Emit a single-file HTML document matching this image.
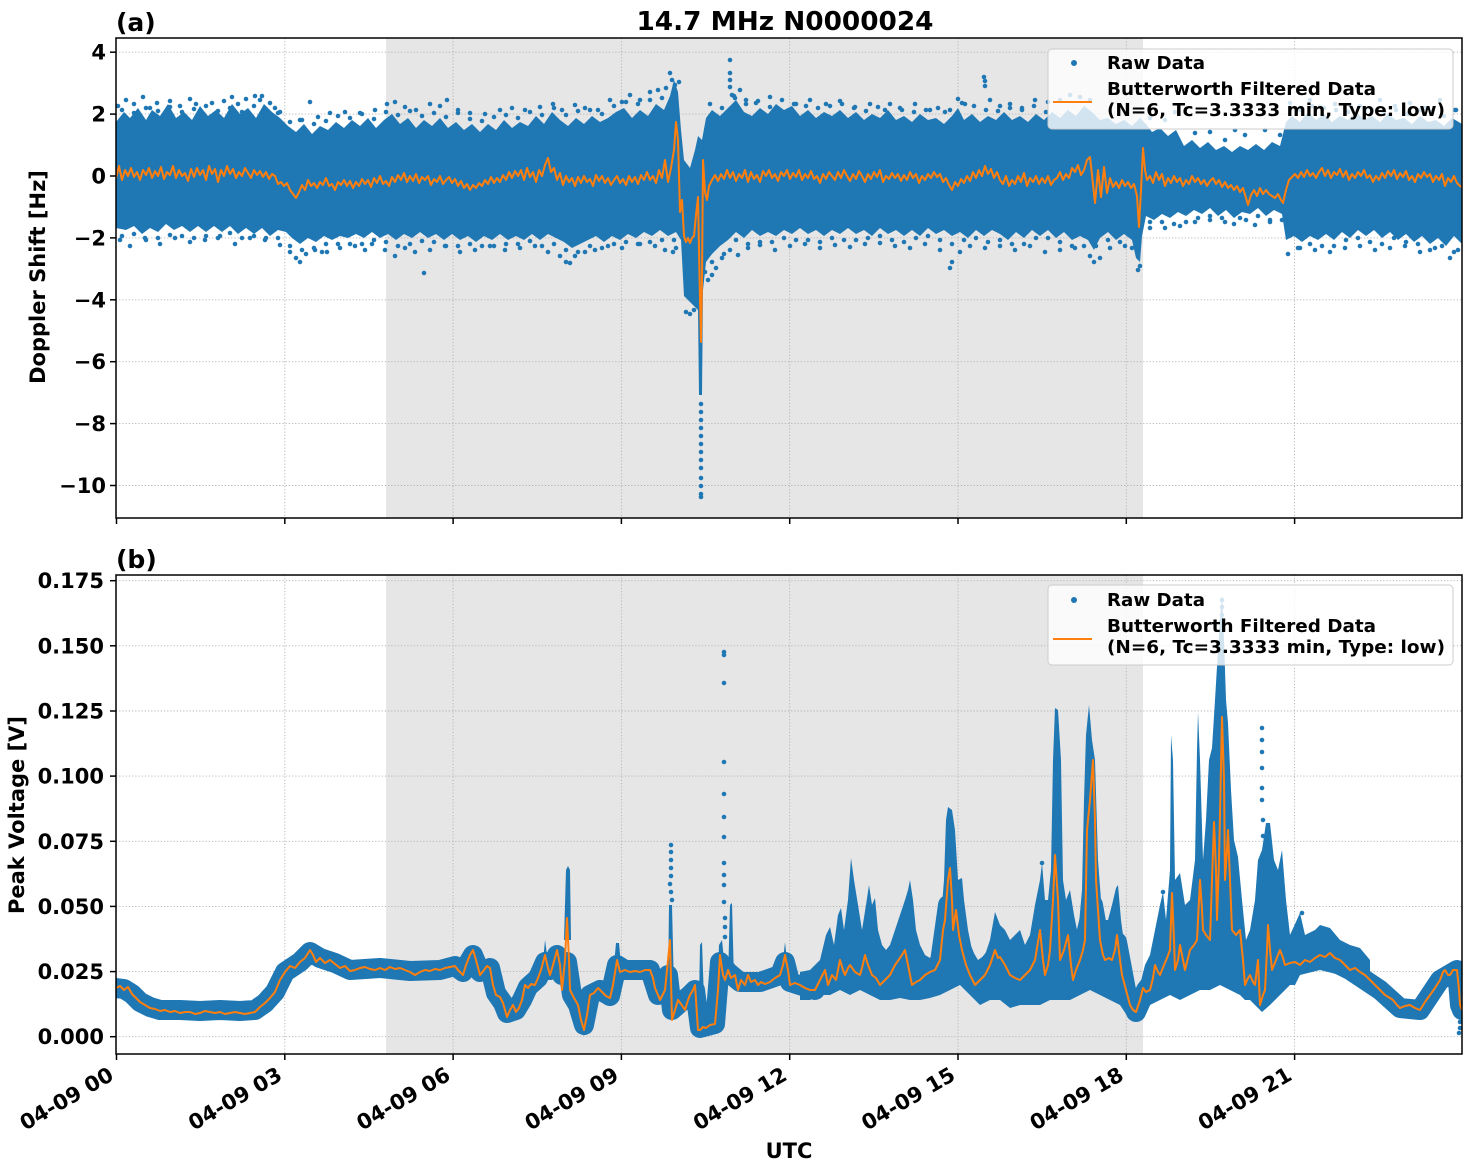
<!DOCTYPE html>
<html>
<head>
<meta charset="utf-8">
<style>
  html,body{margin:0;padding:0;background:#fff;}
  svg{display:block;}
  text{font-family:"DejaVu Sans","Liberation Sans",sans-serif;font-weight:bold;fill:#000;}
</style>
</head>
<body>
<svg width="1472" height="1172" viewBox="0 0 1472 1172" xmlns="http://www.w3.org/2000/svg">
<defs>
  <clipPath id="ca"><rect x="116" y="38" width="1346" height="480"/></clipPath>
  <clipPath id="cb"><rect x="116" y="575" width="1346" height="479"/></clipPath>
</defs>
<rect x="0" y="0" width="1472" height="1172" fill="#fff"/>

<!-- ============ TOP PANEL ============ -->
<rect x="386" y="38" width="757" height="480" fill="#e6e6e6"/>
<g stroke="#b0b0b0" stroke-width="0.9" stroke-dasharray="1.2,2">
  <line x1="284.8" y1="38" x2="284.8" y2="518"/>
  <line x1="453.1" y1="38" x2="453.1" y2="518"/>
  <line x1="621.4" y1="38" x2="621.4" y2="518"/>
  <line x1="789.7" y1="38" x2="789.7" y2="518"/>
  <line x1="958" y1="38" x2="958" y2="518"/>
  <line x1="1126.3" y1="38" x2="1126.3" y2="518"/>
  <line x1="1294.6" y1="38" x2="1294.6" y2="518"/>
  <line x1="116" y1="52.2" x2="1462" y2="52.2"/>
  <line x1="116" y1="114.1" x2="1462" y2="114.1"/>
  <line x1="116" y1="176" x2="1462" y2="176"/>
  <line x1="116" y1="237.9" x2="1462" y2="237.9"/>
  <line x1="116" y1="299.8" x2="1462" y2="299.8"/>
  <line x1="116" y1="361.7" x2="1462" y2="361.7"/>
  <line x1="116" y1="423.6" x2="1462" y2="423.6"/>
  <line x1="116" y1="485.5" x2="1462" y2="485.5"/>
</g>
<g clip-path="url(#ca)">
<path fill="#1f77b4" d="M116,122 L124,112 130,118 138,108 146,120 152,110 160,116 168,104 176,118 184,112 192,120 200,106 208,116 216,110 224,118 232,104 240,114 248,108 256,118 264,104 272,112 280,118 288,126 296,132 304,124 312,134 320,126 328,130 336,122 344,128 352,120 360,126 368,118 376,128 384,120 392,114 400,124 408,118 416,128 424,120 432,126 440,118 448,128 456,122 464,130 472,124 480,132 488,124 496,130 504,120 512,128 520,122 528,126 536,116 544,124 552,112 560,120 568,126 576,118 584,124 592,116 600,122 608,118 616,112 624,108 632,118 640,110 648,116 656,104 664,110 670,96 674,80 678,92 681,130 684,160 690,168 695,150 698,136 702,140 706,118 712,110 720,116 728,108 736,100 744,112 752,116 760,108 768,114 776,104 784,110 792,106 800,116 808,110 816,118 824,112 832,116 840,110 848,118 856,112 864,120 872,114 880,118 888,110 896,120 904,116 912,122 920,114 928,120 936,118 944,124 952,116 958,108 964,120 972,114 980,122 988,116 996,120 1004,112 1012,120 1020,116 1028,122 1036,114 1044,120 1052,112 1060,118 1068,110 1076,116 1084,106 1092,112 1100,120 1108,118 1116,124 1124,120 1132,126 1140,118 1146,124 1152,132 1160,128 1168,136 1176,130 1184,146 1192,140 1200,148 1208,142 1216,150 1224,146 1232,152 1240,146 1248,150 1256,144 1264,150 1272,142 1280,146 1286,122 1292,116 1300,122 1308,112 1316,120 1324,114 1332,122 1340,116 1348,120 1356,112 1364,120 1372,116 1380,122 1388,114 1396,120 1404,118 1412,124 1420,116 1428,122 1436,120 1444,126 1452,118 1462,124 L1462,244 1454,236 1446,246 1438,238 1430,244 1422,236 1414,242 1406,234 1398,240 1390,232 1382,238 1374,230 1366,236 1358,230 1350,238 1342,232 1334,240 1326,234 1318,240 1310,236 1302,242 1294,236 1286,240 1282,214 1274,210 1266,216 1258,208 1250,214 1242,212 1234,218 1226,210 1218,216 1210,208 1202,214 1194,210 1186,216 1178,212 1170,218 1162,214 1154,220 1146,216 1142,236 1140,262 1136,258 1132,240 1124,234 1116,240 1108,232 1100,238 1094,250 1088,240 1080,236 1072,240 1064,232 1056,238 1048,230 1040,236 1032,230 1024,238 1016,232 1008,240 1000,234 992,230 984,236 976,230 968,238 960,232 952,236 944,230 936,234 928,228 920,236 912,230 904,236 896,230 888,234 880,228 872,236 864,230 856,234 848,228 840,234 832,230 824,236 816,230 808,234 800,228 792,234 784,230 776,236 768,232 760,236 752,230 744,238 736,232 728,240 720,246 712,254 706,262 703,290 702,395 699,395 698,310 694,306 688,300 684,296 681,240 676,232 668,236 660,230 652,236 644,232 636,238 628,234 620,240 612,236 604,242 596,236 588,240 580,244 572,248 564,242 556,238 548,234 540,240 532,234 524,240 516,236 508,240 500,234 492,240 484,236 476,242 468,236 460,240 452,234 444,240 436,234 428,238 420,232 412,238 404,234 396,240 388,234 380,238 372,232 364,238 356,234 348,238 340,236 332,240 324,236 316,242 308,238 300,244 292,238 286,232 278,230 270,236 262,228 254,234 246,228 238,234 230,226 222,232 214,226 206,232 198,226 190,232 182,226 174,230 166,224 158,232 150,228 142,234 134,226 126,230 116,228 Z"/>
<path fill="none" stroke="#1f77b4" stroke-width="4.6" stroke-linecap="round" d="M118,106h0M126,100h0M134,104h0M143,97h0M150,108h0M157,103h0M170,101h0M180,106h0M190,99h0M196,104h0M212,103h0M224,101h0M232,97h0M238,104h0M246,99h0M255,96h0M260,100h0M262,96h0M270,103h0M275,108h0M280,112h0M300,120h0M310,102h0M318,117h0M330,113h0M345,112h0M360,113h0M375,110h0M387,104h0M395,102h0M405,107h0M416,110h0M430,104h0M440,106h0M447,100h0M458,110h0M470,113h0M485,114h0M500,110h0M512,108h0M525,110h0M540,107h0M553,104h0M562,110h0M575,105h0M585,108h0M598,110h0M610,100h0M622,102h0M630,95h0M640,100h0M650,92h0M658,90h0M666,88h0M670,73h0M672,80h0M675,85h0M679,82h0M730,60h0M730,73h0M730,80h0M730,87h0M732,95h0M735,98h0M740,90h0M746,100h0M756,103h0M770,97h0M782,100h0M796,104h0M810,100h0M826,104h0M840,101h0M855,107h0M870,104h0M885,110h0M900,108h0M915,104h0M930,110h0M945,112h0M958,99h0M965,104h0M984,77h0M985,81h0M985,86h0M990,100h0M1000,106h0M1010,104h0M1022,108h0M1035,100h0M1048,102h0M1060,100h0M1070,95h0M1080,97h0M1090,100h0M1150,118h0M1165,120h0M1175,112h0M1195,133h0M1210,132h0M1225,140h0M1235,130h0M1245,135h0M1265,130h0M1280,135h0M1290,103h0M1300,108h0M1310,100h0M1320,107h0M1335,104h0M1350,105h0M1365,110h0M1380,100h0M1395,106h0M1410,103h0M1425,108h0M1440,100h0M1455,110h0
M122,110h0M134,113h0M146,108h0M158,111h0M170,107h0M182,112h0M194,109h0M206,106h0M218,111h0M230,108h0M242,112h0M254,106h0M266,110h0M278,113h0M290,122h0M302,120h0M314,124h0M326,121h0M338,116h0M350,118h0M362,114h0M374,119h0M386,112h0M398,115h0M410,111h0M422,116h0M434,113h0M446,117h0M458,113h0M470,119h0M482,121h0M494,117h0M506,115h0M518,118h0M530,112h0M542,115h0M554,108h0M566,115h0M578,111h0M590,110h0M602,114h0M614,106h0M626,102h0M638,104h0M650,100h0M662,98h0M710,104h0M722,108h0M734,96h0M746,104h0M758,101h0M770,107h0M782,100h0M794,104h0M806,106h0M818,108h0M830,106h0M842,104h0M854,108h0M866,111h0M878,107h0M890,104h0M902,110h0M914,112h0M926,110h0M938,108h0M950,110h0M962,103h0M974,106h0M986,110h0M998,111h0M1010,108h0M1022,110h0M1034,106h0M1046,112h0M1300,110h0M1312,106h0M1324,108h0M1336,110h0M1348,112h0M1360,106h0M1372,110h0M1384,112h0M1396,110h0M1408,114h0M1420,110h0M1432,112h0M1444,116h0M1456,110h0
M120,240h0M130,246h0M145,238h0M160,244h0M175,238h0M190,242h0M205,240h0M220,236h0M235,244h0M250,238h0M265,240h0M280,245h0M290,252h0M296,258h0M300,262h0M306,254h0M315,250h0M322,252h0M327,252h0M340,248h0M355,246h0M365,250h0M372,244h0M385,250h0M395,256h0M405,248h0M415,252h0M424,273h0M430,250h0M445,246h0M460,252h0M475,250h0M490,246h0M505,250h0M520,248h0M535,246h0M548,252h0M560,256h0M566,262h0M570,263h0M575,256h0M585,252h0M595,250h0M608,246h0M622,248h0M640,244h0M655,246h0M665,250h0M673,252h0M676,248h0M686,312h0M690,314h0M694,310h0M701,404h0M701,412h0M701,420h0M701,428h0M701,436h0M701,444h0M701,452h0M701,460h0M701,468h0M701,478h0M701,486h0M701,494h0M701,497h0M705,272h0M708,280h0M712,275h0M716,268h0M722,258h0M730,250h0M738,255h0M748,248h0M760,245h0M775,250h0M790,246h0M805,244h0M820,248h0M835,245h0M850,247h0M865,244h0M880,243h0M895,246h0M910,248h0M925,244h0M940,250h0M950,268h0M952,262h0M960,252h0M970,246h0M985,248h0M1000,246h0M1015,250h0M1030,246h0M1045,252h0M1060,250h0M1075,248h0M1090,256h0M1094,262h0M1100,258h0M1110,248h0M1125,246h0M1138,270h0M1140,266h0M1150,228h0M1165,228h0M1180,226h0M1195,222h0M1210,220h0M1225,222h0M1240,218h0M1255,225h0M1270,220h0M1288,254h0M1300,248h0M1315,250h0M1330,252h0M1345,248h0M1360,246h0M1375,250h0M1390,248h0M1405,246h0M1420,252h0M1435,248h0M1450,258h0M1458,250h0
M122,236h0M134,234h0M146,240h0M158,238h0M170,235h0M182,236h0M194,238h0M206,236h0M218,238h0M230,233h0M242,238h0M254,236h0M266,238h0M278,238h0M290,246h0M302,250h0M314,248h0M326,244h0M338,244h0M350,244h0M362,244h0M374,240h0M386,242h0M398,246h0M410,244h0M422,241h0M434,242h0M446,246h0M458,246h0M470,244h0M482,246h0M494,246h0M506,244h0M518,244h0M530,241h0M542,246h0M554,244h0M566,250h0M578,252h0M590,246h0M602,248h0M614,244h0M626,242h0M638,244h0M650,242h0M662,240h0M674,240h0M712,262h0M724,254h0M736,240h0M748,244h0M760,242h0M772,242h0M784,238h0M796,240h0M808,240h0M820,242h0M832,238h0M844,240h0M856,240h0M868,238h0M880,236h0M892,240h0M904,242h0M916,238h0M928,236h0M940,240h0M952,244h0M964,240h0M976,238h0M988,242h0M1000,240h0M1012,244h0M1024,244h0M1036,238h0M1048,238h0M1060,242h0M1072,246h0M1084,246h0M1096,246h0M1108,240h0M1120,242h0M1132,248h0M1150,222h0M1162,222h0M1174,224h0M1186,222h0M1198,218h0M1210,216h0M1222,218h0M1234,224h0M1246,220h0M1258,216h0M1270,222h0M1282,220h0M1298,248h0M1310,244h0M1322,246h0M1334,246h0M1346,240h0M1358,238h0M1370,242h0M1382,244h0M1394,238h0M1406,242h0M1418,244h0M1430,250h0M1442,246h0M1454,252h0"/>
<polyline fill="none" stroke="#ff7f0e" stroke-width="2" stroke-linejoin="round" points="116,178 119,166 122,180 125,170 128,176 131,168 134,177 137,172 140,180 143,170 146,175 149,168 152,178 155,171 158,176 161,167 164,179 167,172 170,175 173,166 176,178 179,170 182,176 185,173 188,181 191,169 194,177 197,168 200,175 203,170 206,180 209,166 212,174 215,169 218,182 221,170 224,176 227,166 230,174 233,169 236,178 239,172 242,176 245,168 248,173 251,178 254,170 257,175 260,171 263,177 266,172 269,179 272,174 275,176 278,184 281,182 284,186 287,183 290,190 293,194 296,198 299,192 302,185 305,190 308,180 311,186 314,183 317,188 320,182 323,185 326,178 329,186 332,184 335,190 338,182 341,185 344,180 347,186 350,181 353,188 356,182 359,186 362,179 365,184 368,180 371,187 374,178 377,183 380,176 383,184 386,181 389,186 392,177 395,182 398,175 401,180 404,173 407,182 410,176 413,181 416,174 419,183 422,177 425,180 428,176 431,185 434,179 437,182 440,176 443,184 446,180 449,177 452,183 455,179 458,186 461,181 464,188 467,184 470,190 473,185 476,188 479,183 482,186 485,180 488,184 491,177 494,183 497,178 500,182 503,175 506,180 509,172 512,178 515,171 518,176 521,170 524,180 527,168 530,177 533,172 536,182 539,170 542,176 545,165 548,158 551,172 554,168 557,180 560,173 563,185 566,176 569,182 572,178 575,186 578,177 581,183 584,176 587,182 590,179 593,186 596,175 599,181 602,176 605,183 608,178 611,185 614,180 617,176 620,183 623,179 626,185 629,176 632,182 635,177 638,184 641,175 644,180 647,172 650,180 653,176 656,183 659,170 662,178 665,160 668,182 671,168 674,150 676,122 678,140 680,212 682,200 684,236 686,242 688,238 690,243 692,238 694,236 696,215 698,197 700,300 701,342 702,280 703,160 705,192 707,200 709,186 712,180 715,175 718,181 721,174 724,179 727,170 730,178 733,172 736,181 739,174 742,178 745,170 748,182 751,172 754,179 757,175 760,182 763,171 766,176 769,170 772,178 775,174 778,181 781,172 784,176 787,170 790,179 793,173 796,177 799,170 802,180 805,174 808,178 811,171 814,179 817,176 820,183 823,174 826,179 829,172 832,176 835,180 838,172 841,178 844,170 847,176 850,181 853,174 856,179 859,171 862,176 865,182 868,174 871,179 874,172 877,177 880,170 883,182 886,176 889,179 892,173 895,178 898,174 901,181 904,175 907,180 910,172 913,178 916,174 919,183 922,176 925,180 928,174 931,178 934,172 937,177 940,174 943,182 946,178 949,185 952,190 955,182 958,186 961,179 964,183 967,176 970,181 973,172 976,178 979,170 982,176 985,166 988,174 991,169 994,178 997,172 1000,180 1003,184 1006,176 1009,186 1012,180 1015,184 1018,176 1021,182 1024,173 1027,186 1030,178 1033,182 1036,176 1039,184 1042,178 1045,183 1048,176 1051,185 1054,180 1057,178 1060,172 1063,180 1066,174 1069,178 1072,168 1075,172 1078,165 1081,175 1084,170 1087,160 1090,157 1092,175 1095,203 1098,170 1101,197 1104,167 1107,193 1110,178 1113,187 1116,182 1119,188 1122,180 1125,186 1128,182 1131,188 1134,184 1137,196 1139,227 1141,190 1143,148 1145,170 1147,180 1150,176 1153,183 1156,172 1159,180 1162,174 1165,186 1168,178 1171,183 1174,176 1177,182 1180,178 1183,186 1186,180 1189,184 1192,176 1195,182 1198,178 1201,184 1204,180 1207,186 1210,181 1213,178 1216,184 1219,180 1222,187 1225,182 1228,188 1231,185 1234,190 1237,186 1240,192 1243,188 1246,198 1248,205 1251,195 1254,190 1257,196 1260,188 1263,194 1266,190 1269,194 1272,196 1275,198 1278,194 1281,200 1283,203 1286,190 1289,180 1292,177 1295,174 1298,178 1301,172 1304,177 1307,170 1310,176 1313,173 1316,178 1319,172 1322,168 1325,176 1328,170 1331,178 1334,172 1337,175 1340,169 1343,177 1346,171 1349,180 1352,174 1355,178 1358,172 1361,176 1364,170 1367,178 1370,175 1373,182 1376,176 1379,180 1382,173 1385,178 1388,171 1391,176 1394,170 1397,179 1400,173 1403,177 1406,171 1409,180 1412,176 1415,182 1418,174 1421,178 1424,172 1427,177 1430,174 1433,182 1436,176 1439,180 1442,174 1445,186 1448,178 1451,182 1454,176 1457,183 1460,186 1462,187"/>
</g>
<rect x="116" y="38" width="1346" height="480" fill="none" stroke="#000" stroke-width="1.5"/>
<g stroke="#000" stroke-width="1.5">
  <line x1="110" y1="52.2" x2="116" y2="52.2"/>
  <line x1="110" y1="114.1" x2="116" y2="114.1"/>
  <line x1="110" y1="176" x2="116" y2="176"/>
  <line x1="110" y1="237.9" x2="116" y2="237.9"/>
  <line x1="110" y1="299.8" x2="116" y2="299.8"/>
  <line x1="110" y1="361.7" x2="116" y2="361.7"/>
  <line x1="110" y1="423.6" x2="116" y2="423.6"/>
  <line x1="110" y1="485.5" x2="116" y2="485.5"/>
  <line x1="116.5" y1="518" x2="116.5" y2="524"/>
  <line x1="284.8" y1="518" x2="284.8" y2="524"/>
  <line x1="453.1" y1="518" x2="453.1" y2="524"/>
  <line x1="621.4" y1="518" x2="621.4" y2="524"/>
  <line x1="789.7" y1="518" x2="789.7" y2="524"/>
  <line x1="958" y1="518" x2="958" y2="524"/>
  <line x1="1126.3" y1="518" x2="1126.3" y2="524"/>
  <line x1="1294.6" y1="518" x2="1294.6" y2="524"/>
</g>
<g font-size="21" text-anchor="end">
  <text x="106" y="59.7">4</text>
  <text x="106" y="121.6">2</text>
  <text x="106" y="183.5">0</text>
  <text x="106" y="245.4">−2</text>
  <text x="106" y="307.3">−4</text>
  <text x="106" y="369.2">−6</text>
  <text x="106" y="431.1">−8</text>
  <text x="106" y="493">−10</text>
</g>
<!-- legend top -->
<rect x="1048" y="49" width="405" height="80" rx="4" ry="4" fill="#fff" fill-opacity="0.8" stroke="#cccccc" stroke-width="1"/>
<circle cx="1074" cy="63" r="3" fill="#1f77b4"/>
<line x1="1053" y1="102" x2="1092" y2="102" stroke="#ff7f0e" stroke-width="2"/>
<text x="1107" y="69" font-size="18" textLength="98" lengthAdjust="spacingAndGlyphs">Raw Data</text>
<text x="1107" y="95" font-size="18" textLength="269" lengthAdjust="spacingAndGlyphs">Butterworth Filtered Data</text>
<text x="1107" y="116" font-size="18" textLength="338" lengthAdjust="spacingAndGlyphs">(N=6, Tc=3.3333 min, Type: low)</text>

<!-- ============ BOTTOM PANEL ============ -->
<rect x="386" y="575" width="757" height="479" fill="#e6e6e6"/>
<g stroke="#b0b0b0" stroke-width="0.9" stroke-dasharray="1.2,2">
  <line x1="284.8" y1="575" x2="284.8" y2="1054"/>
  <line x1="453.1" y1="575" x2="453.1" y2="1054"/>
  <line x1="621.4" y1="575" x2="621.4" y2="1054"/>
  <line x1="789.7" y1="575" x2="789.7" y2="1054"/>
  <line x1="958" y1="575" x2="958" y2="1054"/>
  <line x1="1126.3" y1="575" x2="1126.3" y2="1054"/>
  <line x1="1294.6" y1="575" x2="1294.6" y2="1054"/>
  <line x1="116" y1="580.7" x2="1462" y2="580.7"/>
  <line x1="116" y1="645.8" x2="1462" y2="645.8"/>
  <line x1="116" y1="711" x2="1462" y2="711"/>
  <line x1="116" y1="776.1" x2="1462" y2="776.1"/>
  <line x1="116" y1="841.3" x2="1462" y2="841.3"/>
  <line x1="116" y1="906.4" x2="1462" y2="906.4"/>
  <line x1="116" y1="971.6" x2="1462" y2="971.6"/>
  <line x1="116" y1="1036.7" x2="1462" y2="1036.7"/>
</g>
<g clip-path="url(#cb)">
<polyline fill="none" stroke="#1f77b4" stroke-width="20" stroke-linejoin="round" stroke-linecap="round" points="116,988 124,989 132,994 140,1002 150,1007 160,1010 180,1010 200,1011 220,1010 240,1011 255,1010 265,1003 275,992 285,972 300,962 310,952 320,958 335,963 350,970 380,968 410,971 440,970 455,966 463,972 473,955 480,972 490,968 496,993 503,1003 507,1013 516,1010 522,1000 528,987 538,978 545,962 550,970 557,955 562,975 567,962 572,995 578,1005 584,1025 590,995 600,990 610,996 617,965 625,970 650,970 658,995 663,994 668,975 672,1010 680,1003 690,995 695,990 700,1028 715,1024 720,962 728,972 740,982 760,982 780,975 785,962 790,982 815,990 825,972 840,965 860,972 865,960 880,982 895,965 905,955 915,982 930,972 940,962 948,905 953,925 962,950 975,983 995,957 1010,975 1025,975 1040,948 1050,957 1055,925 1060,957 1068,942 1080,960 1093,905 1100,945 1117,942 1126,990 1136,1012 1146,990 1160,972 1170,952 1180,947 1190,952 1200,925 1210,937 1220,885 1232,930 1245,982 1260,995 1268,942 1280,952 1290,963 1320,955 1350,970 1380,990 1400,1008 1420,1010 1440,980 1457,970 1460,1005 1462,1010"/>
<path fill="#1f77b4" d="M800,972 L810,970 820,960 826,935 830,927 834,945 838,915 841,908 844,930 848,900 851,858 854,880 858,905 862,930 866,905 869,885 872,905 875,898 878,930 882,945 886,950 890,945 895,930 900,915 905,900 908,890 910,880 913,900 916,930 920,945 925,955 930,958 935,950 940,930 944,880 946,820 948,807 952,810 955,830 958,880 962,878 964,900 968,930 972,950 978,960 985,955 990,940 995,912 1000,925 L1000,1000 990,1000 980,1005 970,995 960,985 950,990 940,995 930,998 920,1000 910,1000 900,998 890,1000 880,1000 870,995 860,990 850,995 840,990 830,995 820,995 810,1000 800,1000 Z"/>
<path fill="#1f77b4" d="M1000,925 L1005,930 1010,940 1015,935 1020,930 1025,945 1030,935 1035,905 1040,880 1042,863 1045,900 1048,900 1051,870 1053,760 1055,708 1058,710 1061,760 1063,880 1066,900 1070,890 1074,915 1078,935 1082,890 1084,800 1086,735 1089,705 1092,740 1095,760 1098,860 1101,900 1104,920 1108,920 1112,905 1116,888 1118,885 1121,920 1125,950 1130,975 1135,990 1140,985 1145,965 1150,955 1155,930 1160,905 1163,892 1166,920 1170,870 1171,735 1173,760 1175,880 1180,873 1185,905 1190,900 1195,860 1197,750 1198,712 1200,760 1203,860 1206,820 1209,760 1212,748 1215,700 1218,650 1220,620 1222,595 1224,640 1226,700 1228,723 1231,790 1234,840 1238,857 1242,900 1246,940 1250,930 1255,900 1258,860 1262,850 1266,823 1270,823 1274,860 1278,870 1282,850 1286,900 1290,935 1300,913 1305,935 1315,930 1320,925 1330,928 1340,940 1350,945 1360,948 1370,960 L1370,985 1360,982 1340,975 1320,970 1300,975 1295,985 1290,985 1280,995 1270,1005 1262,1012 1255,1005 1250,1000 1245,1000 1240,995 1230,990 1220,985 1210,990 1200,990 1190,995 1180,1000 1170,995 1160,1000 1150,1005 1140,1010 1130,1020 1120,1005 1110,1000 1100,995 1090,990 1080,995 1070,1000 1060,1000 1050,1000 1040,1005 1030,1005 1020,1005 1010,1008 1000,1000 Z"/>
<path fill="#1f77b4" d="M543,962 L545,940 548,962 Z M564,940 L566,870 568,866 570,870 571,940 Z M614,965 L616,943 619,943 621,965 Z M668,990 L669,905 672,905 674,990 Z M699,1000 L700,945 702,942 704,1000 Z M717,1000 L719,945 722,940 726,980 Z M728,980 L730,905 732,903 734,980 Z M782,970 L785,942 788,970 Z M580,1030 L584,1036 588,1020 Z"/>
<path fill="none" stroke="#1f77b4" stroke-width="4.6" stroke-linecap="round" d="M671,845h0M671,852h0M671,860h0M671,868h0M671,876h0M670,884h0M671,892h0M672,900h0M724,652h0M724,655h0M724,683h0M724,762h0M724,794h0M724,817h0M724,837h0M724,863h0M724,875h0M724,885h0M724,902h0M725,918h0M725,927h0M725,937h0M1222,600h0M1222,607h0M1222,615h0M1221,622h0M1223,630h0M1262,728h0M1262,740h0M1262,752h0M1262,768h0M1262,788h0M1262,800h0M1263,820h0M1263,836h0M1460,1022h0M1460,1028h0M1459,1033h0M1042,863h0M1163,892h0M1302,913h0"/>
<polyline fill="none" stroke="#ff7f0e" stroke-width="2" stroke-linejoin="round" points="116,988 120,986 124,990 128,987 132,994 136,998 140,1002 145,1005 150,1008 155,1009 160,1011 165,1010 170,1012 175,1011 180,1013 185,1012 190,1012 195,1014 200,1013 205,1011 210,1012 215,1013 220,1012 225,1014 230,1013 235,1012 240,1013 245,1014 250,1013 255,1012 260,1007 265,1003 270,998 275,992 280,980 285,972 290,966 295,968 300,962 305,958 310,950 313,955 316,962 320,958 325,963 330,960 335,964 340,968 345,966 350,971 355,970 360,968 365,967 370,969 375,970 380,968 385,970 390,967 395,969 400,968 405,970 410,972 415,975 420,972 425,970 430,971 435,969 440,970 445,968 450,967 455,966 458,970 463,975 466,965 470,955 473,950 476,960 480,975 484,970 487,966 490,968 493,985 496,995 500,997 503,1003 507,1017 510,1010 513,1005 516,1012 519,1008 522,1000 525,985 528,988 531,984 535,985 538,978 541,970 545,955 548,968 550,975 553,965 557,950 560,965 562,990 565,960 567,918 569,960 570,990 574,998 578,1005 581,1020 584,1030 587,1015 590,995 594,993 598,988 602,992 606,996 610,998 613,985 617,960 620,972 625,970 630,972 635,971 640,972 645,970 650,970 653,978 655,988 658,995 660,1000 663,994 665,990 668,960 670,940 672,1020 675,1010 678,1000 681,1004 685,1010 688,1000 690,995 693,990 695,985 698,1030 700,1030 703,1027 706,1028 710,1025 715,1024 718,990 720,955 723,975 725,980 728,970 731,978 735,975 738,990 741,980 745,985 748,975 751,982 755,980 758,985 761,982 765,984 770,982 775,978 780,975 783,965 785,955 788,970 790,985 795,983 800,985 805,988 810,990 815,990 820,980 825,970 828,985 832,975 836,980 840,960 843,970 845,975 848,968 850,965 855,972 860,975 862,968 865,955 868,965 872,975 876,978 880,985 885,980 890,975 895,965 900,958 905,950 908,965 912,985 916,982 920,980 925,975 930,972 935,970 940,960 943,930 945,920 948,880 950,868 952,900 953,930 956,910 959,935 962,950 966,965 970,975 975,985 980,980 985,975 990,965 995,950 998,958 1000,957 1005,965 1010,975 1015,978 1020,980 1025,975 1030,970 1035,960 1040,930 1043,960 1045,975 1048,965 1050,950 1053,900 1055,855 1058,900 1060,960 1064,950 1068,935 1071,965 1073,980 1076,970 1080,960 1083,950 1085,940 1087,830 1090,800 1093,760 1095,820 1096,880 1098,910 1100,940 1103,955 1105,960 1109,958 1112,960 1115,950 1117,935 1120,960 1122,975 1126,990 1130,1005 1133,1010 1136,1012 1140,1000 1143,988 1146,992 1150,990 1153,978 1155,965 1158,972 1160,975 1164,965 1167,958 1170,950 1172,893 1174,940 1175,970 1178,960 1180,945 1183,960 1185,970 1188,958 1190,950 1194,945 1197,940 1200,880 1202,910 1203,930 1206,935 1210,940 1212,880 1214,822 1216,870 1217,920 1219,860 1220,815 1222,717 1224,780 1225,880 1227,850 1228,830 1230,880 1232,930 1236,935 1240,930 1243,960 1245,985 1248,978 1250,975 1253,982 1255,985 1258,960 1260,1005 1263,995 1265,990 1267,950 1268,925 1270,950 1272,970 1276,960 1280,950 1283,958 1285,965 1290,963 1295,962 1300,965 1305,960 1310,962 1315,958 1320,955 1325,957 1330,953 1335,958 1340,960 1345,965 1350,970 1355,968 1360,972 1365,975 1370,980 1375,985 1380,990 1385,995 1390,998 1393,1000 1397,1005 1400,1008 1405,1006 1410,1005 1415,1008 1420,1010 1425,1002 1430,995 1435,988 1440,980 1443,972 1445,970 1448,975 1450,975 1453,970 1457,970 1459,990 1460,1005 1462,1010"/>
</g>
<rect x="116" y="575" width="1346" height="479" fill="none" stroke="#000" stroke-width="1.5"/>
<g stroke="#000" stroke-width="1.5">
  <line x1="110" y1="580.7" x2="116" y2="580.7"/>
  <line x1="110" y1="645.8" x2="116" y2="645.8"/>
  <line x1="110" y1="711" x2="116" y2="711"/>
  <line x1="110" y1="776.1" x2="116" y2="776.1"/>
  <line x1="110" y1="841.3" x2="116" y2="841.3"/>
  <line x1="110" y1="906.4" x2="116" y2="906.4"/>
  <line x1="110" y1="971.6" x2="116" y2="971.6"/>
  <line x1="110" y1="1036.7" x2="116" y2="1036.7"/>
  <line x1="116.5" y1="1054" x2="116.5" y2="1060"/>
  <line x1="284.8" y1="1054" x2="284.8" y2="1060"/>
  <line x1="453.1" y1="1054" x2="453.1" y2="1060"/>
  <line x1="621.4" y1="1054" x2="621.4" y2="1060"/>
  <line x1="789.7" y1="1054" x2="789.7" y2="1060"/>
  <line x1="958" y1="1054" x2="958" y2="1060"/>
  <line x1="1126.3" y1="1054" x2="1126.3" y2="1060"/>
  <line x1="1294.6" y1="1054" x2="1294.6" y2="1060"/>
</g>
<g font-size="21" text-anchor="end">
  <text x="104" y="588.2">0.175</text>
  <text x="104" y="653.3">0.150</text>
  <text x="104" y="718.5">0.125</text>
  <text x="104" y="783.6">0.100</text>
  <text x="104" y="848.8">0.075</text>
  <text x="104" y="913.9">0.050</text>
  <text x="104" y="979.1">0.025</text>
  <text x="104" y="1044.2">0.000</text>
</g>
<!-- legend bottom -->
<rect x="1048" y="585" width="405" height="80" rx="4" ry="4" fill="#fff" fill-opacity="0.8" stroke="#cccccc" stroke-width="1"/>
<circle cx="1074" cy="600" r="3" fill="#1f77b4"/>
<line x1="1053" y1="639" x2="1092" y2="639" stroke="#ff7f0e" stroke-width="2"/>
<text x="1107" y="606" font-size="18" textLength="98" lengthAdjust="spacingAndGlyphs">Raw Data</text>
<text x="1107" y="632" font-size="18" textLength="269" lengthAdjust="spacingAndGlyphs">Butterworth Filtered Data</text>
<text x="1107" y="653" font-size="18" textLength="338" lengthAdjust="spacingAndGlyphs">(N=6, Tc=3.3333 min, Type: low)</text>

<!-- x tick labels -->
<g font-size="21" text-anchor="end">
  <text transform="translate(115,1079) rotate(-30)">04-09 00</text>
  <text transform="translate(283.5,1079) rotate(-30)">04-09 03</text>
  <text transform="translate(451.8,1079) rotate(-30)">04-09 06</text>
  <text transform="translate(620.1,1079) rotate(-30)">04-09 09</text>
  <text transform="translate(788.4,1079) rotate(-30)">04-09 12</text>
  <text transform="translate(956.7,1079) rotate(-30)">04-09 15</text>
  <text transform="translate(1125,1079) rotate(-30)">04-09 18</text>
  <text transform="translate(1293.3,1079) rotate(-30)">04-09 21</text>
</g>

<!-- labels -->
<text x="789" y="1158" font-size="21" text-anchor="middle">UTC</text>
<text transform="translate(45,277) rotate(-90)" font-size="21" text-anchor="middle">Doppler Shift [Hz]</text>
<text transform="translate(24,815) rotate(-90)" font-size="21" text-anchor="middle">Peak Voltage [V]</text>
<text x="785" y="30" font-size="26" text-anchor="middle" textLength="297" lengthAdjust="spacingAndGlyphs">14.7 MHz N0000024</text>
<text x="116" y="31" font-size="25">(a)</text>
<text x="116" y="568" font-size="25">(b)</text>
</svg>
</body>
</html>
